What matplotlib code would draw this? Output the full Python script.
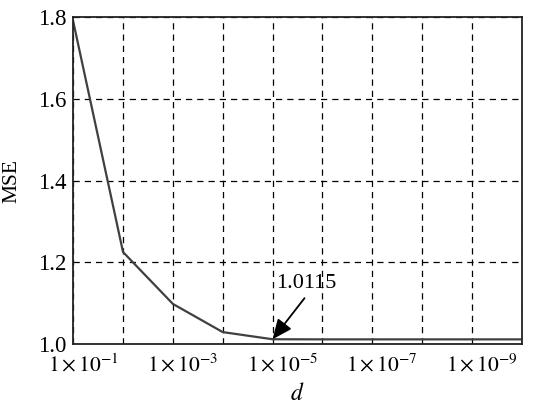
import matplotlib
matplotlib.use("Agg")
import matplotlib.pyplot as plt
from matplotlib.transforms import ScaledTranslation

plt.rcParams['font.family'] = ['Liberation Serif', 'DejaVu Serif']
plt.rcParams['mathtext.fontset'] = 'stix'

# d swept from 1e-1 down to 1e-10
d_exponents = [-1, -2, -3, -4, -5, -6, -7, -8, -9, -10]
mse = [1.79, 1.225, 1.098, 1.029, 1.0115, 1.0112, 1.0112, 1.0112, 1.0112, 1.0112]
label_exponents = [-1, -3, -5, -7, -9]
best_value = 1.0115

positions = list(range(len(d_exponents)))

fig, ax = plt.subplots(figsize=(5.38, 4.08), dpi=100)
fig.subplots_adjust(left=0.136, right=0.970, top=0.958, bottom=0.157)

ax.plot(positions, mse, color='#404040', linewidth=1.6)

ax.set_xlim(0, len(d_exponents) - 1)
ax.set_ylim(1.0, 1.8)

ax.set_xticks(positions, minor=True)
ax.set_xticks([d_exponents.index(e) for e in label_exponents])
ax.set_xticklabels([r'$1\times10^{%d}$' % e for e in label_exponents])
ax.set_yticks([1.0, 1.2, 1.4, 1.6, 1.8])
ax.set_yticklabels(['1.0', '1.2', '1.4', '1.6', '1.8'])

ax.tick_params(axis='both', which='both', length=0)
ax.tick_params(axis='y', labelsize=16.5, pad=5)
ax.tick_params(axis='x', labelsize=15.5, pad=7)
shift = ScaledTranslation(0.10, 0, fig.dpi_scale_trans)
for lbl in ax.get_xticklabels():
    lbl.set_transform(lbl.get_transform() + shift)

ax.grid(True, which='both', axis='x', linestyle=(0, (5, 4)), color='black', linewidth=0.9)
ax.grid(True, which='major', axis='y', linestyle=(0, (5, 4)), color='black', linewidth=0.9)

for sp in ax.spines.values():
    sp.set_linewidth(1.3)
    sp.set_color('#222222')

ax.set_xlabel('$d$', fontsize=17, labelpad=5)
ax.set_ylabel('MSE', fontsize=15.5, labelpad=12)

best_idx = d_exponents.index(-5)
ax.text(positions[best_idx] + 0.08, 1.149, '%.4f' % best_value, fontsize=16,
        ha='left', va='center')
ax.annotate('', xy=(positions[best_idx], best_value),
            xytext=(positions[best_idx] + 0.64, 1.112),
            arrowprops=dict(arrowstyle='-|>,head_length=0.8,head_width=0.35',
                            color='black', lw=1.3, shrinkA=0, shrinkB=0,
                            mutation_scale=15))

fig.savefig('out.png', dpi=100)
